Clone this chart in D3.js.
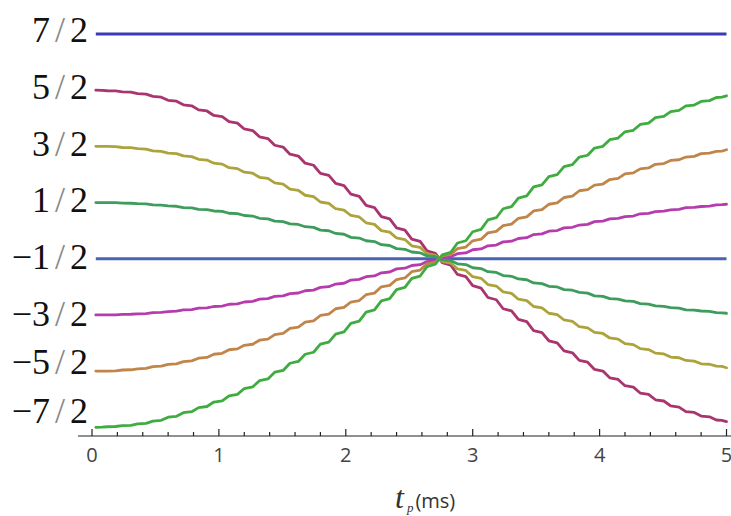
<!DOCTYPE html>
<html>
<head>
<meta charset="utf-8">
<script src="https://cdn.jsdelivr.net/npm/d3@7"></script>
<style>
  html, body { margin: 0; padding: 0; background: #fff; }
  svg { display: block; }
</style>
</head>
<body>
<svg id="chart" width="731" height="516"></svg>
<script>
// ── Data ──────────────────────────────────────────────────────────────────────

const tValues = [0.03, 0.12, 0.24, 0.36, 0.48, 0.60, 0.72, 0.84, 0.96, 1.08,
  1.20, 1.32, 1.44, 1.56, 1.68, 1.80, 1.92, 2.04, 2.16, 2.28,
  2.40, 2.52, 2.64, 2.76, 2.88, 3.00, 3.12, 3.24, 3.36, 3.48,
  3.60, 3.72, 3.84, 3.96, 4.08, 4.20, 4.32, 4.44, 4.56, 4.68,
  4.80, 4.92, 5.00];

const from52 = [2.50, 2.49, 2.47, 2.44, 2.39, 2.32, 2.24, 2.15, 2.05, 1.94,
  1.81, 1.67, 1.52, 1.36, 1.20, 1.02, 0.84, 0.65, 0.45, 0.25,
  0.05, -0.15, -0.36, -0.57, -0.78, -0.98, -1.19, -1.39, -1.58, -1.78,
  -1.96, -2.14, -2.31, -2.47, -2.62, -2.76, -2.89, -3.01, -3.12, -3.22,
  -3.30, -3.37, -3.40];

const from32 = [1.50, 1.50, 1.48, 1.46, 1.42, 1.38, 1.33, 1.27, 1.20, 1.12,
  1.04, 0.95, 0.85, 0.74, 0.63, 0.51, 0.39, 0.27, 0.14, 0.00,
  -0.13, -0.27, -0.41, -0.55, -0.68, -0.82, -0.96, -1.09, -1.22, -1.35,
  -1.47, -1.59, -1.71, -1.81, -1.91, -2.01, -2.10, -2.18, -2.25, -2.31,
  -2.37, -2.41, -2.44];

const from12 = [0.50, 0.50, 0.49, 0.48, 0.46, 0.44, 0.41, 0.38, 0.35, 0.31,
  0.27, 0.22, 0.17, 0.12, 0.07, 0.01, -0.05, -0.12, -0.18, -0.25,
  -0.32, -0.38, -0.45, -0.52, -0.59, -0.66, -0.73, -0.80, -0.86, -0.93,
  -0.99, -1.05, -1.10, -1.16, -1.21, -1.25, -1.30, -1.34, -1.37, -1.41,
  -1.43, -1.46, -1.47];

const fromM32 = [-1.50, -1.50, -1.49, -1.48, -1.46, -1.44, -1.41, -1.38, -1.35, -1.31,
  -1.27, -1.22, -1.17, -1.12, -1.07, -1.01, -0.95, -0.88, -0.82, -0.75,
  -0.68, -0.62, -0.55, -0.48, -0.41, -0.34, -0.27, -0.20, -0.14, -0.07,
  -0.01, 0.05, 0.10, 0.16, 0.21, 0.25, 0.30, 0.34, 0.37, 0.41,
  0.43, 0.46, 0.47];

const fromM52 = [-2.50, -2.50, -2.48, -2.46, -2.42, -2.38, -2.33, -2.27, -2.20, -2.12,
  -2.04, -1.95, -1.85, -1.74, -1.63, -1.51, -1.39, -1.27, -1.14, -1.00,
  -0.87, -0.73, -0.59, -0.45, -0.32, -0.18, -0.04, 0.09, 0.22, 0.35,
  0.47, 0.59, 0.71, 0.81, 0.91, 1.01, 1.10, 1.18, 1.25, 1.31,
  1.37, 1.41, 1.44];

const fromM72 = [-3.50, -3.49, -3.47, -3.44, -3.39, -3.32, -3.24, -3.15, -3.05, -2.94,
  -2.81, -2.67, -2.52, -2.36, -2.20, -2.02, -1.84, -1.65, -1.45, -1.25,
  -1.05, -0.85, -0.64, -0.43, -0.22, -0.02, 0.19, 0.39, 0.58, 0.78,
  0.96, 1.14, 1.31, 1.47, 1.62, 1.76, 1.89, 2.01, 2.12, 2.22,
  2.30, 2.37, 2.40];

// constant levels (drawn flat across the whole range)
const flatLevels = [3.5, -0.5];
const flatColors = ['#3b3bb6', '#4a62b4'];

const curves = [
  { values: from52,  color: '#a9346f' },
  { values: from32,  color: '#ada33c' },
  { values: from12,  color: '#3e9c5c' },
  { values: fromM32, color: '#b63cae' },
  { values: fromM52, color: '#c0854a' },
  { values: fromM72, color: '#3fac40' },
];

const yTickValues = [3.5, 2.5, 1.5, 0.5, -0.5, -1.5, -2.5, -3.5];
const yTickNum    = ['7', '5', '3', '1', '−1', '−3', '−5', '−7'];
const yTickDen    = ['2', '2', '2', '2', '2', '2', '2', '2'];
const yLabelDy    = [8, 8.5, 9.3, 9.4, 10, 10.7, 3.2, -4];

const xMajor = [0, 1, 2, 3, 4, 5];
const xMinor = [0.2, 0.4, 0.6, 0.8, 1.2, 1.4, 1.6, 1.8, 2.2, 2.4, 2.6, 2.8,
  3.2, 3.4, 3.6, 3.8, 4.2, 4.4, 4.6, 4.8];

// ── Scales ────────────────────────────────────────────────────────────────────

const svg = d3.select('#chart');
const x = d3.scaleLinear().domain([0, 5]).range([92, 726.5]);
const y = d3.scaleLinear().domain([-3.5, 3.5]).range([427.3, 34]);
const axisY = 436;

// small staircase: mostly flat, then the drop, for each sample step
function stairCurve(context) {
  let x0, y0, first;
  return {
    areaStart() {}, areaEnd() {},
    lineStart() { first = true; },
    lineEnd() {},
    point(px, py) {
      if (first) { context.moveTo(px, py); first = false; }
      else {
        context.lineTo(x0 + (px - x0) * 0.55, y0 + (py - y0) * 0.2);
        context.lineTo(px, py);
      }
      x0 = px; y0 = py;
    }
  };
}

const line = d3.line()
  .x(d => x(d[0]))
  .y(d => y(d[1]))
  .curve(stairCurve);

// ── Lines ─────────────────────────────────────────────────────────────────────

const tStart = tValues[0];
const tEnd = tValues[tValues.length - 1];

svg.append('g')
  .selectAll('path').data(flatLevels).join('path')
  .attr('d', v => d3.line().x(d => x(d[0])).y(d => y(d[1]))([[tStart, v], [tEnd, v]]))
  .attr('fill', 'none')
  .attr('stroke', (v, i) => flatColors[i])
  .attr('stroke-width', 2.8);

svg.append('g')
  .selectAll('path').data(curves).join('path')
  .attr('d', c => line(tValues.map((t, i) => [t, c.values[i]])))
  .attr('fill', 'none')
  .attr('stroke', c => c.color)
  .attr('stroke-width', 2.8)
  .attr('stroke-linejoin', 'round')
  .attr('stroke-linecap', 'round');

// ── Y labels ──────────────────────────────────────────────────────────────────

const ylab = svg.append('g')
  .selectAll('text').data(yTickValues).join('text')
  .attr('x', 88)
  .attr('y', (v, i) => y(v) + yLabelDy[i])
  .attr('text-anchor', 'end')
  .attr('font-family', '"Liberation Serif", "DejaVu Serif", serif')
  .attr('font-size', 36)
  .attr('fill', '#111');

ylab.append('tspan').text((v, i) => yTickNum[i]);
ylab.append('tspan').attr('dx', 5).attr('fill', '#8a8a8a').text('/');
ylab.append('tspan').attr('dx', 5).text((v, i) => yTickDen[i]);

// ── X axis ────────────────────────────────────────────────────────────────────

const gx = svg.append('g').attr('transform', `translate(0,${axisY})`);

gx.append('line')
  .attr('x1', x(-0.11)).attr('x2', 731)
  .attr('stroke', '#222').attr('stroke-width', 1.2);

gx.selectAll('line.major').data(xMajor).join('line')
  .attr('class', 'major')
  .attr('x1', d => x(d)).attr('x2', d => x(d))
  .attr('y1', 0).attr('y2', -7)
  .attr('stroke', '#222').attr('stroke-width', 1.2);

gx.selectAll('line.minor').data(xMinor).join('line')
  .attr('class', 'minor')
  .attr('x1', d => x(d)).attr('x2', d => x(d))
  .attr('y1', 0).attr('y2', -4)
  .attr('stroke', '#222').attr('stroke-width', 1.2);

gx.selectAll('text').data(xMajor).join('text')
  .attr('x', d => x(d))
  .attr('y', 26)
  .attr('text-anchor', 'middle')
  .attr('font-family', '"Open Sans", "Noto Sans", sans-serif')
  .attr('font-size', 20)
  .attr('fill', '#444')
  .text(d => d);

// axis title: t_p (ms)
const title = svg.append('text')
  .attr('x', 395)
  .attr('y', 508)
  .attr('fill', '#333');

title.append('tspan')
  .attr('font-family', '"Liberation Serif", serif')
  .attr('font-style', 'italic')
  .attr('font-size', 32)
  .text('t');
title.append('tspan')
  .attr('font-family', '"Liberation Serif", serif')
  .attr('font-style', 'italic')
  .attr('font-size', 13)
  .attr('dx', 3).attr('dy', 4)
  .text('p');
title.append('tspan')
  .attr('font-family', '"Open Sans", "Noto Sans", sans-serif')
  .attr('font-size', 20)
  .attr('dx', 2).attr('dy', -4)
  .text('(ms)');
</script>
</body>
</html>
